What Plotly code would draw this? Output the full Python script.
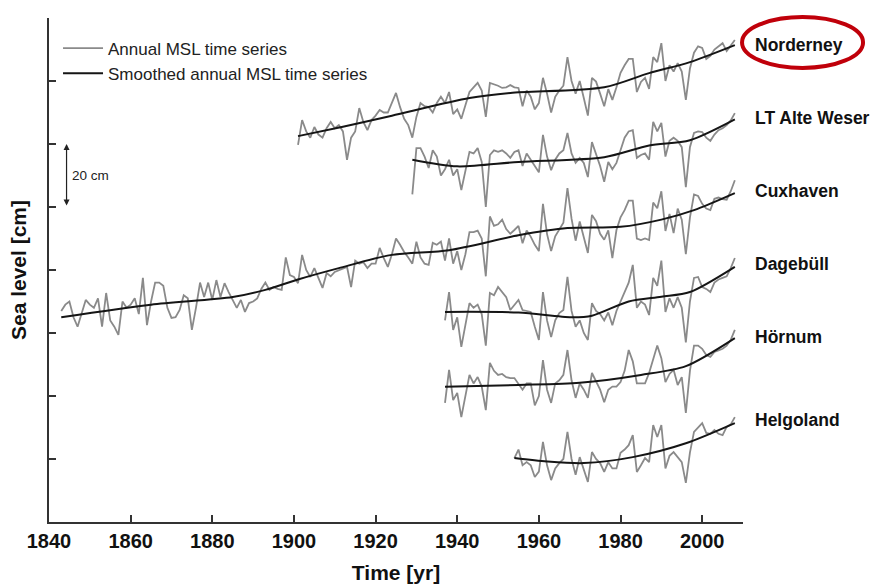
import plotly.graph_objects as go

# ---------------- data (cm, stacked with offsets as in the figure) ----------------
norderney_start = 1901
norderney_annual = [
    119.7, 127.6, 124, 122, 125.4, 123, 122, 125, 127, 125, 126, 124, 115, 122, 124, 131.4, 127, 124.4,
    127.6, 129, 130.8, 130, 130, 133, 136.2, 131.7, 128, 126, 122, 128.6, 133, 132, 131.7, 130, 133, 135,
    133, 136.5, 129.5, 131, 128, 132.3, 136.5, 138, 139.4, 137, 128.6, 139.4, 139, 138.5, 137.8, 138,
    138.7, 138, 137.8, 132, 137, 135, 131, 133, 141, 136, 130, 135, 137, 138.5, 147.6, 140, 136, 140,
    134.6, 129, 141, 139.8, 136, 132, 137.4, 134, 138, 142.6, 145, 147, 147, 136.5, 139.7, 141, 137.5,
    147.6, 146, 152, 140, 145, 143, 145.7, 143, 134, 144, 149, 151, 150.5, 147, 148, 150, 151, 152,
    149.5, 151.4, 153]
norderney_smooth_years = [1901, 1912, 1924, 1943, 1953, 1976, 1987, 1997, 2008]
norderney_smooth = [122.5, 125.5, 129, 134.6, 136.2, 138, 142.5, 146, 151.4]

alteweser_start = 1929
alteweser_annual = [
    104, 118.7, 118.7, 116, 112.4, 118, 116, 110, 112, 115, 110, 112, 105.4, 112, 117.5, 117, 118.7,
    114.3, 100, 116.5, 118, 117.5, 118, 117, 115.6, 117.5, 118, 113, 117, 115, 113, 111, 122.9, 116,
    111.7, 115, 117, 118, 123.5, 117, 114, 115.6, 114, 109.5, 120.6, 117, 113, 108, 114.3, 112, 114,
    118, 122, 124, 124.4, 115.6, 116.5, 117, 115, 127, 124, 126.7, 116, 121, 122, 121, 119, 106.3, 119,
    123.5, 124, 123.8, 122, 121, 123, 124.4, 125, 126, 127.5, 129.8]
alteweser_smooth_years = [1929, 1940, 1955, 1976, 1987, 1997, 2008]
alteweser_smooth = [115, 112.9, 114.3, 115.8, 119.5, 121.2, 127.8]

cuxhaven_start = 1843
cuxhaven_annual = [
    67, 69, 70, 65, 62, 66, 70.5, 69, 68, 71, 62, 72.7, 64, 62, 59.4, 70, 68, 69, 71, 66, 77.5, 62.5,
    70, 76, 76, 75, 68, 64.8, 65, 67.3, 72, 71, 61, 68, 76, 71.4, 76, 70.5, 76.8, 71.4, 75.8, 73, 70.5,
    68, 70.5, 66.7, 69.5, 70, 71, 74, 76, 73.7, 74.6, 74, 73.7, 84, 78.4, 77.8,
    75.8, 84.8, 80, 77.8, 80.6, 77.5, 74.3, 79, 78, 79.4, 80, 80.6, 81, 74.6, 83, 82, 82.5, 80.6, 82,
    82, 87, 83.8, 81, 85, 90, 88, 85.7, 84, 82, 89, 84, 82, 81.6, 88.6, 88, 89,
    83, 90, 82, 86, 80, 85, 92, 92, 92.5, 90, 78, 97, 94, 94.5, 96, 93, 91.5, 92.7, 94, 88.5, 92.5,
    90.6, 88, 86, 101, 91.4, 86, 90.7, 93, 95, 106, 96.3, 89.3, 95.4, 90.4, 85.4, 97.5, 95.5, 91.5,
    89.6, 92.6, 83.8, 92.7, 96.7, 99, 102, 102, 90, 89.5, 90, 89.5, 101.4, 99.6, 105, 92.4, 97.8, 91.7,
    99.5, 96, 85, 96.6, 104, 103.5, 101, 99.5, 99, 102.6, 103, 102.5, 102.3, 105, 108.5]
cuxhaven_smooth_years = [1843, 1865, 1885, 1893, 1901, 1911, 1924, 1938, 1955, 1967, 1980, 1990, 1998, 2008]
cuxhaven_smooth = [65, 69, 71.4, 73.7, 77, 80.6, 84.8, 86.3, 91, 93.3, 93.7, 96, 99, 104.4]

dagebuell_start = 1937
dagebuell_annual = [
    64, 73, 61, 65, 55.6, 63, 69.5, 68, 69, 66, 56, 72.7, 72, 74.6, 73, 71.4, 67.3, 69, 70.5, 67.3, 67,
    66.7, 62, 57.8, 73, 64, 58.7, 64, 66.3, 67.3, 77.8, 67, 62, 64, 60, 57.8, 69.5, 67, 66, 64, 66.5,
    62.5, 67, 70, 72.7, 76, 81.6, 68, 70, 69, 65.7, 77.5, 75, 83, 66.7, 71, 68, 71.4, 68, 57, 70, 77.5,
    77.8, 74.6, 74, 73, 76, 77, 77.5, 78, 80.6, 83.8]
dagebuell_smooth_years = [1937, 1955, 1968, 1973, 1982, 1990, 1997, 2008]
dagebuell_smooth = [66.7, 66.5, 65, 65.5, 70, 71.5, 73, 81]

hoernum_start = 1937
hoernum_annual = [
    37.8, 48.3, 38.7, 41, 33.3, 40, 46.7, 44, 46, 43, 35.5, 50.5, 48, 46.7, 47, 46, 45.7, 45.7, 44, 42,
    44, 44, 37, 40, 51.4, 42, 37.8, 44, 45, 46.7, 54.6, 45, 39.4, 44, 42, 39.4, 47.3, 44.4, 42, 38, 42,
    43, 43, 44.4, 48, 54.6, 51, 44, 44, 44, 47.3, 52, 56, 52, 44.4, 47, 48.3, 43.5, 46, 34.6, 48, 56,
    56, 55, 53, 52.4, 54, 54.5, 55, 56, 57.8, 61]
hoernum_smooth_years = [1937, 1955, 1970, 1985, 1996, 2008]
hoernum_smooth = [42.9, 43.5, 44.2, 46.7, 49.5, 58.4]

helgoland_start = 1954
helgoland_annual = [
    20.3, 23, 18, 19, 18, 14.3, 16, 25.4, 18, 13.3, 17, 18.7, 20, 28.6, 20, 15, 20.6, 17, 12.7, 22.2,
    20, 18.7, 15.9, 19, 17, 17, 22, 23, 24.4, 27.6, 15.9, 18, 20.3, 19, 30.8, 27, 30.8, 17, 21, 22.2,
    20.6, 19, 12.4, 22, 28.6, 30, 31.4, 28.3, 28, 29.2, 28, 27.6, 30.2, 31, 33.3]
helgoland_smooth_years = [1954, 1962, 1971, 1983, 1996, 2008]
helgoland_smooth = [20.3, 19.2, 18.7, 20.6, 25, 31.4]

station_names = ["Norderney", "LT Alte Weser", "Cuxhaven", "Dagebüll", "Hörnum", "Helgoland"]
station_label_y = [151.4, 128.2, 105.2, 81.8, 58.8, 32.4]

x_ticks = [1840, 1860, 1880, 1900, 1920, 1940, 1960, 1980, 2000]
y_ticks = [20, 40, 60, 80, 100, 120, 140]

# ---------------- figure ----------------
FONT = "Liberation Sans, Arial, sans-serif"
GRAY = "#8a8a8a"
BLACK = "#151515"
Y_MAX = 160

series = [
    (norderney_start, norderney_annual, norderney_smooth_years, norderney_smooth),
    (alteweser_start, alteweser_annual, alteweser_smooth_years, alteweser_smooth),
    (cuxhaven_start, cuxhaven_annual, cuxhaven_smooth_years, cuxhaven_smooth),
    (dagebuell_start, dagebuell_annual, dagebuell_smooth_years, dagebuell_smooth),
    (hoernum_start, hoernum_annual, hoernum_smooth_years, hoernum_smooth),
    (helgoland_start, helgoland_annual, helgoland_smooth_years, helgoland_smooth),
]

fig = go.Figure()
for i, (start, annual, syears, smooth) in enumerate(series):
    years = list(range(start, start + len(annual)))
    fig.add_trace(go.Scatter(
        x=years, y=annual, mode="lines", name="Annual MSL time series",
        line=dict(color=GRAY, width=1.8), legendgroup="a", showlegend=(i == 0),
        hoverinfo="skip"))
for i, (start, annual, syears, smooth) in enumerate(series):
    fig.add_trace(go.Scatter(
        x=syears, y=smooth, mode="lines", name="Smoothed annual MSL time series",
        line=dict(color=BLACK, width=2, shape="spline", smoothing=0.8), legendgroup="b",
        showlegend=(i == 0), hoverinfo="skip"))

annotations = []
for name, ly in zip(station_names, station_label_y):
    annotations.append(dict(x=1.014, y=ly / Y_MAX, xref="paper", yref="paper", text=name,
                            showarrow=False, xanchor="left", yanchor="middle",
                            font=dict(family=FONT, size=17.5, color="#111", weight="bold")))
# 20 cm scale arrow
annotations.append(dict(x=1844.3, y=120, ax=1844.3, ay=100, xref="x", yref="y", axref="x", ayref="y",
                        text="", showarrow=True, arrowhead=2, arrowside="end+start", arrowsize=1,
                        arrowwidth=1.2, arrowcolor="#222"))
annotations.append(dict(x=1845.2, y=110, xref="x", yref="y", text="20 cm", showarrow=False,
                        xanchor="left", yanchor="middle",
                        font=dict(family=FONT, size=13.5, color="#222")))

fig.update_layout(
    width=875, height=587,
    margin=dict(l=49, r=132, t=18, b=65),
    paper_bgcolor="white", plot_bgcolor="white",
    font=dict(family=FONT, color="#111"),
    showlegend=True,
    legend=dict(x=0.013, y=0.975, xanchor="left", yanchor="top", bgcolor="rgba(0,0,0,0)",
                font=dict(family=FONT, size=17, color="#222"), tracegroupgap=0,
                traceorder="grouped", itemwidth=40),
    annotations=annotations,
    shapes=[dict(type="circle", xref="paper", yref="paper", x0=0.9986, x1=1.173, y0=0.901, y1=1.002,
                 line=dict(color="#c0000a", width=4))],
)
fig.update_xaxes(range=[1840, 2010], tickvals=x_ticks, ticks="inside", ticklen=7, tickwidth=1.5,
                 tickcolor="#333", showline=True, linecolor="#333", linewidth=1.5, showgrid=False,
                 zeroline=False, automargin=False,
                 tickfont=dict(family=FONT, size=20, color="#111", weight="bold"),
                 title=dict(text="Time [yr]",
                            font=dict(family=FONT, size=21, color="#111", weight="bold")))
fig.update_yaxes(range=[0, Y_MAX], tickvals=y_ticks, ticks="inside", ticklen=7, tickwidth=1.5,
                 tickcolor="#333", showline=True, linecolor="#333", linewidth=1.5, showgrid=False,
                 zeroline=False, showticklabels=False, automargin=False,
                 title=dict(text="Sea level [cm]",
                            font=dict(family=FONT, size=21, color="#111", weight="bold")))

fig.write_html("out.html", config={"displayModeBar": False},
               post_script="document.body.style.margin='0px';")
